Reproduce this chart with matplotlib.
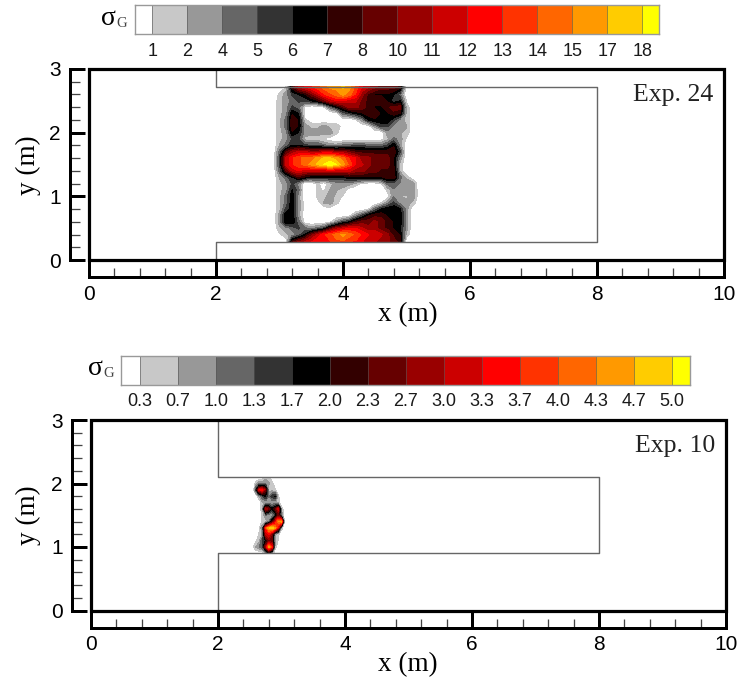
"""Two sigma_G maps (Exp. 24 and Exp. 10) with detached axes and stepped legends."""
import numpy as np
import matplotlib
matplotlib.use("Agg")
import matplotlib.pyplot as plt
from matplotlib.colors import ListedColormap
from matplotlib.patches import Rectangle

W, H = 739, 682

LEGEND_COLORS = ["#ffffff", "#c8c8c8", "#989898", "#666666", "#333333", "#000000",
                 "#330000", "#660000", "#990000", "#cc0000", "#ff0000", "#ff3300",
                 "#ff6600", "#ff9900", "#ffcc00", "#ffff00"]

# Exp. 24
LEVELS_24 = [1.2, 2.4, 3.6, 4.8, 6.0, 7.2, 8.4, 9.6, 10.8, 12.0, 13.2, 14.4, 15.6, 16.8, 18.0]
LABELS_24 = ["1", "2", "4", "5", "6", "7", "8", "10", "11", "12", "13", "14", "15", "17", "18"]
X_24 = [2.9, 3.0, 3.1, 3.2, 3.3, 3.4, 3.5, 3.6, 3.7, 3.8, 3.9, 4.0, 4.1, 4.2, 4.3, 4.4, 4.5,
        4.6, 4.7, 4.8, 4.9, 5.0, 5.1, 5.2]
Y_24 = [2.72, 2.6, 2.5, 2.4, 2.3, 2.2, 2.1, 2.0, 1.9, 1.8, 1.7, 1.6, 1.5, 1.4, 1.3, 1.2, 1.1,
        1.0, 0.9, 0.8, 0.7, 0.6, 0.5, 0.4, 0.28]
SIGMA_24 = [
    [0, 0, 1, 8, 11, 12, 13, 14, 15, 16, 16, 17, 16, 14, 12, 11, 10, 9, 9, 9, 8, 0, 0, 0],
    [0, 1.5, 3, 5, 6, 7, 9, 11, 13, 14, 15, 16, 15, 13, 10, 8, 7, 7, 7, 6, 4, 0, 0, 0],
    [0, 2, 3, 4, 5, 5, 6, 7, 9, 11, 12, 12, 11, 11, 9, 8, 8, 8, 7, 5, 6, 1, 0, 0],
    [0, 2, 3, 5, 4, 1, 0, 0, 1, 4, 6, 8, 10, 10, 9, 8, 7, 7, 8, 9, 9, 2, 0, 0],
    [0, 2, 3, 7, 6, 0.5, 0, 0, 0, 0, 0.5, 4, 5, 6, 7, 8, 8, 7, 7, 8, 7, 2, 0, 0],
    [0, 2, 4, 8, 7, 1.5, 0.5, 0, 0, 0, 0, 0, 0, 1, 3, 6, 7, 7, 7, 5, 3, 2, 0, 0],
    [0, 2, 4, 8, 7, 3, 2, 2, 3, 2, 2, 0.5, 0, 0, 0, 0.5, 3, 5, 5, 3, 2.5, 2.5, 0, 0],
    [0, 2, 3, 7, 6, 3, 3, 3, 3, 3, 1.5, 0, 0, 0, 0, 0, 0, 0, 3, 2.5, 2.5, 2, 0, 0],
    [0, 2, 3, 5, 5, 2, 1.5, 1.5, 1, 0.5, 0, 0, 0, 0, 0, 0, 0, 0.5, 2, 4, 3, 1, 0, 0],
    [0, 2.5, 4, 6, 6, 5, 5, 5, 4, 3, 3, 4, 4, 5, 5, 4, 4, 4, 5, 7, 3, 0, 0, 0],
    [0, 4, 8, 10, 11, 11, 10, 10, 11, 11, 10, 10, 9, 8, 8, 8, 8, 8, 8, 8, 5, 0, 0, 0],
    [0, 5, 11, 13, 14, 15, 15, 16, 17, 17, 16, 15, 13, 12, 10, 10, 9, 9, 9, 7, 3, 0, 0, 0],
    [0, 5, 11, 13, 14, 15, 16, 17, 18, 19, 18, 16, 14, 12, 11, 10, 9, 9, 9, 7, 2, 0, 0, 0],
    [0, 4, 8, 11, 12, 11, 11, 11, 11, 11, 11, 11, 11, 10, 10, 9, 9, 8, 8, 8, 2, 0, 0, 0],
    [0, 2.5, 4, 6, 8, 7, 6, 6, 6, 6, 6, 6, 7, 7, 7, 7, 7, 7, 8, 8, 4, 2, 0, 0],
    [0, 2, 3, 5, 3, 0, 0, 1.5, 0.5, 2, 3, 3, 3, 2, 1, 0.5, 0.5, 1, 4, 4, 3.5, 3.5, 3, 0],
    [0, 2, 3, 6, 4, 0, 0, 1.5, 1, 2.5, 2.5, 2, 0.5, 0, 0, 0, 0, 0, 1.5, 3.5, 3, 3.5, 3.5, 0],
    [0, 2, 4, 7, 3, 0, 0, 1.5, 2, 3, 2, 1, 0, 0, 0, 0, 0, 0, 0.5, 3.5, 2.5, 2, 3.5, 0],
    [0, 2, 4, 7, 3, 0.5, 0.5, 0.5, 2.5, 3, 1.5, 0.5, 0, 0, 0, 0, 0, 1, 3, 5, 3, 3, 2, 0],
    [0, 2, 5, 7, 3, 0.5, 0, 0, 0.5, 0.5, 0, 0, 0, 0, 0, 1, 4, 6, 7, 7, 6, 3, 0, 0],
    [0, 3, 7, 7, 3, 0, 0, 0, 0, 0, 0, 0, 0.5, 3, 5, 7, 8, 8, 7, 7, 7, 3, 0, 0],
    [0, 3, 7, 7, 4, 0.5, 0, 0, 0, 1, 3, 5, 6, 8, 9, 9, 10, 9, 8, 7, 7, 3, 0, 0],
    [0, 2, 3, 4, 5, 4, 3, 4, 5, 8, 10, 11, 12, 12, 11, 10, 10, 9, 8, 7, 6, 3, 0, 0],
    [0, 1, 2, 3, 4, 6, 9, 11, 13, 14, 15, 16, 15, 14, 13, 12, 12, 11, 10, 8, 7, 2, 0, 0],
    [0, 0, 0, 8, 10, 11, 12, 13, 13, 13, 14, 14, 13, 13, 12, 11, 11, 10, 10, 9, 8, 0, 0, 0],
]
CHANNEL_X_24 = [2, 2, 8, 8, 2, 2]
CHANNEL_Y_24 = [3, 2.72, 2.72, 0.28, 0.28, 0]

# Exp. 10
LEVELS_10 = [0.33, 0.67, 1.0, 1.33, 1.67, 2.0, 2.33, 2.67, 3.0, 3.33, 3.67, 4.0, 4.33, 4.67, 5.0]
LABELS_10 = ["0.3", "0.7", "1.0", "1.3", "1.7", "2.0", "2.3", "2.7", "3.0", "3.3", "3.7",
             "4.0", "4.3", "4.7", "5.0"]
X_10 = [2.5, 2.55, 2.6, 2.65, 2.7, 2.75, 2.8, 2.85, 2.9, 2.95, 3.0, 3.05]
Y_10 = [2.1, 2.0, 1.9, 1.8, 1.7, 1.6, 1.5, 1.4, 1.3, 1.2, 1.1, 1.0, 0.9]
SIGMA_10 = [
    [0, 0, 0, 0, 0, 0.5, 0.5, 0, 0, 0, 0, 0],
    [0, 0, 0.5, 1.0, 1.0, 1.0, 0.7, 0.5, 0, 0, 0, 0],
    [0, 0, 1.5, 3.3, 3.5, 2.5, 0.5, 0.5, 0.4, 0, 0, 0],
    [0, 0, 0, 0.7, 1.3, 1.7, 1.0, 1.5, 1.7, 0.4, 0, 0],
    [0, 0, 0, 0, 0.6, 0.7, 0.7, 0.7, 0.7, 0.5, 0, 0],
    [0, 0, 0, 0, 0.7, 3.0, 2.5, 1.7, 2.3, 3.2, 0.6, 0],
    [0, 0, 0, 0, 0.4, 1.0, 0.7, 0.7, 1.3, 2.3, 1.0, 0],
    [0, 0, 0, 0, 0.4, 0.4, 1.0, 2.0, 3.2, 4.4, 4.6, 0],
    [0, 0, 0, 0.3, 1.0, 3.6, 4.6, 4.9, 4.4, 3.0, 0.5, 0],
    [0, 0, 0, 0.4, 0.7, 3.0, 3.4, 2.5, 0.7, 0.4, 0, 0],
    [0, 0, 0.3, 0.6, 1.3, 1.7, 2.5, 2.3, 0.7, 0.3, 0, 0],
    [0, 0.3, 0.7, 1.0, 1.3, 2.8, 4.4, 3.5, 0.5, 0, 0, 0],
    [0, 0, 0, 0, 0, 0.5, 1.5, 0.7, 0, 0, 0, 0],
]
CHANNEL_X_10 = [2, 2, 8, 8, 2, 2]
CHANNEL_Y_10 = [3, 2.1, 2.1, 0.9, 0.9, 0]

plt.rcParams["font.family"] = ["Liberation Sans", "DejaVu Sans"]
SERIF = ["Liberation Serif", "DejaVu Serif"]
PX = 0.72  # one pixel in points at dpi 100

fig = plt.figure(figsize=(W / 100, H / 100), dpi=100)


def box(x0, y0, x1, y1):
    # pixel box (y down) to figure fractions
    return [x0 / W, 1 - y1 / H, (x1 - x0) / W, (y1 - y0) / H]


def draw_panel(frame, xs, ys, sigma, levels, chan_x, chan_y, name, gap_x, gap_y):
    ax = fig.add_axes(box(*frame))
    # with extend="both" the first and last colours fill below and above the levels
    ax.contourf(xs, ys, sigma, levels=levels, colors=LEGEND_COLORS, extend="both")
    ax.plot(chan_x, chan_y, color="#666666", lw=1.4 * PX)
    ax.set_xlim(0, 10)
    ax.set_ylim(0, 3)

    # axis lines sit away from the frame, ticks point back at it
    for side in ("top", "right"):
        ax.spines[side].set_visible(False)
    ax.spines["left"].set_position(("outward", gap_y * PX))
    ax.spines["bottom"].set_position(("outward", gap_x * PX))
    ax.spines["left"].set_linewidth(3 * PX)
    ax.spines["bottom"].set_linewidth(3 * PX)
    ax.add_patch(Rectangle((0, 0), 1, 1, transform=ax.transAxes, fill=False,
                           ec="black", lw=3.2 * PX, clip_on=False, zorder=5))

    ax.set_xticks(np.arange(0, 11, 2))
    ax.set_xticks(np.arange(0, 10.1, 0.4), minor=True)
    ax.set_yticks([0, 1, 2, 3])
    ax.set_yticks(np.arange(0, 3.01, 0.2), minor=True)
    ax.tick_params(axis="x", which="major", direction="in", length=(gap_x - 1) * PX,
                   width=3 * PX, pad=8 * PX, labelsize=15)
    ax.tick_params(axis="y", which="major", direction="in", length=(gap_y - 4) * PX,
                   width=3 * PX, pad=9 * PX, labelsize=15)
    ax.tick_params(axis="x", which="minor", direction="in", length=9 * PX, width=1.3 * PX,
                   color="#444444")
    ax.tick_params(axis="y", which="minor", direction="in", length=10 * PX, width=1.3 * PX,
                   color="#444444")
    ax.text(0.983, 0.92, name, transform=ax.transAxes, ha="right", va="top",
            family=SERIF, fontsize=18.5, color="#222222")
    return ax


def draw_legend(bar, first_edge, step, labels, label_y):
    x0, y0, x1, y1 = bar
    ax = fig.add_axes(box(*bar))
    idx = np.arange(len(LEGEND_COLORS)).reshape(1, -1)
    # edges in pixels: half cells at both ends
    edges = np.r_[x0, first_edge + step * np.arange(len(labels)), x1]
    ax.pcolormesh(edges, [0, 1], idx, cmap=ListedColormap(LEGEND_COLORS),
                  vmin=-0.5, vmax=len(LEGEND_COLORS) - 0.5)
    ax.vlines(edges[1:-1], 0, 1, color="#555555", lw=0.7, alpha=0.6)
    ax.set_xlim(x0, x1)
    ax.set_ylim(0, 1)
    ax.set_xticks([])
    ax.set_yticks([])
    for s in ax.spines.values():
        s.set_color("#999999")
        s.set_linewidth(1.0)
    for i, lab in enumerate(labels):
        fig.text((first_edge + step * i) / W, 1 - label_y / H, lab, ha="center",
                 va="center", fontsize=13, color="#1a1a1a")


def sigma_label(x, y):
    fig.text(x / W, 1 - y / H, "σ", family=SERIF, fontsize=20, ha="left", va="baseline")
    fig.text((x + 15) / W, 1 - (y + 2) / H, "G", family=SERIF, fontsize=10.5, ha="left",
             va="baseline", color="#444444")


draw_panel((89, 69, 724, 260), X_24, Y_24, SIGMA_24, LEVELS_24, CHANNEL_X_24, CHANNEL_Y_24,
           "Exp. 24", 17, 19)
draw_panel((91, 420, 726, 610.5), X_10, Y_10, SIGMA_10, LEVELS_10, CHANNEL_X_10, CHANNEL_Y_10,
           "Exp. 10", 17, 19)

draw_legend((135, 5, 659, 34), 152.3, 35.0, LABELS_24, 51)
draw_legend((121, 356, 690, 385), 140, 38.0, LABELS_10, 402)
sigma_label(101, 25)
sigma_label(88, 375)

for x, y, txt, rot in [(408, 315, "x (m)", 0), (28, 165, "y (m)", 90),
                       (408, 665, "x (m)", 0), (28, 515, "y (m)", 90)]:
    fig.text(x / W, 1 - y / H, txt, family=SERIF, fontsize=19.5, ha="center", va="center",
             rotation=rot)

fig.savefig("out.png", dpi=100)
